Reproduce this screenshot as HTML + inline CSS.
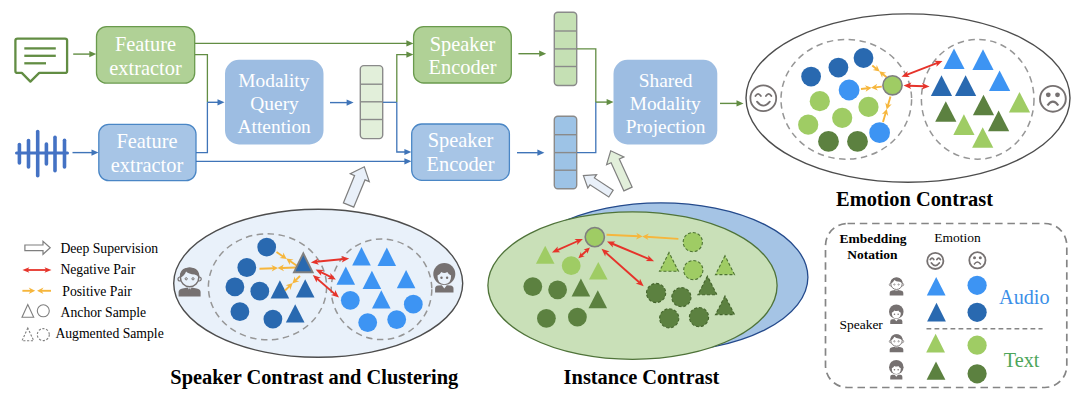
<!DOCTYPE html>
<html><head><meta charset="utf-8"><title>Framework</title>
<style>html,body{margin:0;padding:0;background:#fff}svg{display:block}</style>
</head><body>
<svg width="1080" height="403" viewBox="0 0 1080 403" font-family="'Liberation Serif', 'Times New Roman', serif">
<rect width="1080" height="403" fill="#fff"/>
<path d="M17.5,38.6 H65 Q67.1,38.6 67.1,40.6 V70.9 Q67.1,72.9 65,72.9 H39.2 L30.4,81.6 L21.8,72.9 H17.5 Q15.4,72.9 15.4,70.9 V40.6 Q15.4,38.6 17.5,38.6 Z" fill="none" stroke="#628d43" stroke-width="2.3" stroke-linejoin="round"/>
<line x1="24.3" y1="48.4" x2="55.8" y2="48.4" stroke="#628d43" stroke-width="2.3"/>
<line x1="24.3" y1="55.8" x2="55.8" y2="55.8" stroke="#628d43" stroke-width="2.3"/>
<line x1="24.3" y1="63.3" x2="46" y2="63.3" stroke="#628d43" stroke-width="2.3"/>
<line x1="16.5" y1="152.9" x2="67.5" y2="152.9" stroke="#4472c4" stroke-width="3" stroke-linecap="round"/>
<line x1="19.4" y1="144.5" x2="19.4" y2="163" stroke="#4472c4" stroke-width="3.6" stroke-linecap="round"/>
<line x1="28.5" y1="140.5" x2="28.5" y2="167" stroke="#4472c4" stroke-width="3.6" stroke-linecap="round"/>
<line x1="37.7" y1="131.5" x2="37.7" y2="175.8" stroke="#4472c4" stroke-width="3.6" stroke-linecap="round"/>
<line x1="46.4" y1="144" x2="46.4" y2="164" stroke="#4472c4" stroke-width="3.6" stroke-linecap="round"/>
<line x1="55" y1="137.2" x2="55" y2="170.8" stroke="#4472c4" stroke-width="3.6" stroke-linecap="round"/>
<line x1="64.5" y1="140.3" x2="64.5" y2="167" stroke="#4472c4" stroke-width="3.6" stroke-linecap="round"/>
<line x1="73.2" y1="54.1" x2="89.8" y2="54.1" stroke="#628d43" stroke-width="1.4"/><polygon points="96.3,54.1 89.3,57.2 89.3,51.0" fill="#628d43"/>
<line x1="72.5" y1="152.6" x2="92.0" y2="152.6" stroke="#3f74b8" stroke-width="1.4"/><polygon points="98.5,152.6 91.5,155.7 91.5,149.5" fill="#3f74b8"/>
<rect x="96.5" y="26.6" width="98.2" height="56.5" rx="10" fill="#b0d196" stroke="#6a9a4d" stroke-width="1.3"/>
<rect x="98.8" y="124.3" width="97.2" height="56.3" rx="10" fill="#a7c5e6" stroke="#4a86c5" stroke-width="1.3"/>
<text x="145.5" y="50.7" font-size="20.4" text-anchor="middle" fill="#fff" >Feature</text>
<text x="145.5" y="74.5" font-size="20.4" text-anchor="middle" fill="#fff" >extractor</text>
<text x="147" y="147.7" font-size="20.4" text-anchor="middle" fill="#fff" >Feature</text>
<text x="147" y="171.5" font-size="20.4" text-anchor="middle" fill="#fff" >extractor</text>
<line x1="195" y1="43.4" x2="408" y2="43.4" stroke="#628d43" stroke-width="1.3"/>
<polygon points="413.4,43.4 406.4,46.5 406.4,40.3" fill="#628d43"/>
<polyline points="195,54.6 207.4,54.6 207.4,102.3" fill="none" stroke="#628d43" stroke-width="1.3"/>
<polyline points="196,152.6 207.4,152.6 207.4,102.3" fill="none" stroke="#3f74b8" stroke-width="1.3"/>
<line x1="207.4" y1="102.3" x2="218.0" y2="102.3" stroke="#3f74b8" stroke-width="1.4"/><polygon points="224.5,102.3 217.5,105.4 217.5,99.2" fill="#3f74b8"/>
<line x1="196" y1="161.3" x2="406" y2="161.3" stroke="#3f74b8" stroke-width="1.3"/>
<polygon points="411.4,161.3 404.4,164.4 404.4,158.2" fill="#3f74b8"/>
<rect x="225" y="59.8" width="98.5" height="84.6" rx="14" fill="#9dbde2"/>
<text x="273.9" y="87" font-size="19.4" text-anchor="middle" fill="#fff" >Modality</text>
<text x="274.6" y="109.6" font-size="19.4" text-anchor="middle" fill="#fff" >Query</text>
<text x="274.2" y="132.8" font-size="19.4" text-anchor="middle" fill="#fff" >Attention</text>
<line x1="330.0" y1="102.6" x2="347.1" y2="102.6" stroke="#3f74b8" stroke-width="1.4"/><polygon points="353.6,102.6 346.6,105.7 346.6,99.5" fill="#3f74b8"/>
<rect x="360.3" y="65.6" width="22.4" height="73" rx="3.5" fill="#e2efda" stroke="#8a8a8a" stroke-width="1.4"/><line x1="360.3" y1="84.2" x2="382.7" y2="84.2" stroke="#8a8a8a" stroke-width="1.4"/><line x1="360.3" y1="101.8" x2="382.7" y2="101.8" stroke="#8a8a8a" stroke-width="1.4"/><line x1="360.3" y1="119.5" x2="382.7" y2="119.5" stroke="#8a8a8a" stroke-width="1.4"/>
<line x1="383" y1="102.3" x2="396.8" y2="102.3" stroke="#3f74b8" stroke-width="1.3"/>
<polyline points="396.8,102.3 396.8,54.6 408,54.6" fill="none" stroke="#628d43" stroke-width="1.3"/>
<polygon points="413.4,54.6 406.4,57.7 406.4,51.5" fill="#628d43"/>
<polyline points="396.8,102.3 396.8,152 406,152" fill="none" stroke="#3f74b8" stroke-width="1.3"/>
<polygon points="411.4,152.0 404.4,155.1 404.4,148.9" fill="#3f74b8"/>
<rect x="413.6" y="26.6" width="97.7" height="56.4" rx="10" fill="#b0d196" stroke="#6a9a4d" stroke-width="1.3"/>
<rect x="411.7" y="124" width="97.7" height="56.3" rx="10" fill="#a7c5e6" stroke="#4a86c5" stroke-width="1.3"/>
<text x="462.5" y="50.6" font-size="20.4" text-anchor="middle" fill="#fff" >Speaker</text>
<text x="462.5" y="74.2" font-size="20.4" text-anchor="middle" fill="#fff" >Encoder</text>
<text x="460.5" y="147.3" font-size="20.4" text-anchor="middle" fill="#fff" >Speaker</text>
<text x="460.5" y="170.9" font-size="20.4" text-anchor="middle" fill="#fff" >Encoder</text>
<line x1="518.4" y1="53.7" x2="539.7" y2="53.7" stroke="#628d43" stroke-width="1.4"/><polygon points="546.2,53.7 539.2,56.8 539.2,50.6" fill="#628d43"/>
<line x1="517.0" y1="152.7" x2="537.9" y2="152.7" stroke="#3f74b8" stroke-width="1.4"/><polygon points="544.4,152.7 537.4,155.8 537.4,149.6" fill="#3f74b8"/>
<rect x="554.3" y="12.3" width="22.4" height="73.2" rx="3.5" fill="#c5e0b4" stroke="#8a8a8a" stroke-width="1.4"/><line x1="554.3" y1="31" x2="576.6999999999999" y2="31" stroke="#8a8a8a" stroke-width="1.4"/><line x1="554.3" y1="48.9" x2="576.6999999999999" y2="48.9" stroke="#8a8a8a" stroke-width="1.4"/><line x1="554.3" y1="66.5" x2="576.6999999999999" y2="66.5" stroke="#8a8a8a" stroke-width="1.4"/>
<rect x="554.3" y="116.2" width="22.4" height="72.5" rx="3.5" fill="#9dc3e6" stroke="#8a8a8a" stroke-width="1.4"/><line x1="554.3" y1="134.7" x2="576.6999999999999" y2="134.7" stroke="#8a8a8a" stroke-width="1.4"/><line x1="554.3" y1="152.6" x2="576.6999999999999" y2="152.6" stroke="#8a8a8a" stroke-width="1.4"/><line x1="554.3" y1="170.2" x2="576.6999999999999" y2="170.2" stroke="#8a8a8a" stroke-width="1.4"/>
<polyline points="577,48.9 595.8,48.9 595.8,102.1" fill="none" stroke="#628d43" stroke-width="1.3"/>
<polyline points="577,152.6 595.8,152.6 595.8,102.1" fill="none" stroke="#3f74b8" stroke-width="1.3"/>
<line x1="595.8" y1="102.1" x2="607.1" y2="102.1" stroke="#628d43" stroke-width="1.4"/><polygon points="613.6,102.1 606.6,105.2 606.6,99.0" fill="#628d43"/>
<rect x="613.5" y="59.8" width="103.8" height="84.6" rx="14" fill="#9dbde2"/>
<text x="665.6" y="87" font-size="19.4" text-anchor="middle" fill="#fff" >Shared</text>
<text x="665.2" y="109.7" font-size="19.4" text-anchor="middle" fill="#fff" >Modality</text>
<text x="665.6" y="132.8" font-size="19.4" text-anchor="middle" fill="#fff" >Projection</text>
<line x1="720.0" y1="103.4" x2="737.0" y2="103.4" stroke="#628d43" stroke-width="1.4"/><polygon points="743.5,103.4 736.5,106.5 736.5,100.3" fill="#628d43"/>
<polygon points="353.8,207.1 365.0,179.9 369.3,181.6 364.3,166.8 350.3,173.8 354.6,175.6 343.4,202.9" fill="#e9f0f9" stroke="#7f7f7f" stroke-width="1.2" stroke-linejoin="miter"/>
<polygon points="613.2,190.2 594.4,177.9 596.6,174.6 583.4,175.6 587.8,188.0 590.0,184.8 608.8,197.0" fill="#e9f0f9" stroke="#7f7f7f" stroke-width="1.2" stroke-linejoin="miter"/>
<polygon points="632.1,187.1 619.3,159.0 623.9,156.9 610.7,150.8 606.6,164.7 611.1,162.7 623.9,190.9" fill="#e2efda" stroke="#7f7f7f" stroke-width="1.2" stroke-linejoin="miter"/>
<ellipse cx="908" cy="98.1" rx="162" ry="84.2" fill="#fff" stroke="#4d4d4d" stroke-width="1.4"/>
<ellipse cx="846.3" cy="99.3" rx="65.3" ry="59.9" fill="none" stroke="#969696" stroke-width="1.5" stroke-dasharray="6.5,4.5"/>
<ellipse cx="977.7" cy="99.3" rx="56.3" ry="59.9" fill="none" stroke="#969696" stroke-width="1.5" stroke-dasharray="6.5,4.5"/>
<g transform="translate(763.3,98.2)" fill="none" stroke="#767171" stroke-width="1.8" stroke-linecap="round"><circle r="12.9"/><path d="M-7.9,-2.2 Q-5.2,-6.5 -2.4,-2.2"/><path d="M2.6,-2.2 Q5.4,-6.5 8.1,-2.2"/><path d="M-6.3,3.4 Q0.0,11.4 6.5,3.4"/></g>
<g transform="translate(1052.9,98.8)"><circle r="12.9" fill="none" stroke="#767171" stroke-width="1.9"/><circle cx="-4.6" cy="-4.0" r="2.4" fill="#767171"/><circle cx="4.6" cy="-4.0" r="2.4" fill="#767171"/><path d="M-5.4,6.7 Q0,-1.2 5.4,6.7" fill="none" stroke="#767171" stroke-width="2.2"/></g>
<circle cx="811.1" cy="76.6" r="9.9" fill="#2969b0" />
<circle cx="838.4" cy="67.6" r="9.9" fill="#2969b0" />
<circle cx="863.5" cy="58.0" r="9.9" fill="#2969b0" />
<circle cx="849.1" cy="90.0" r="10.4" fill="#3d94f3" />
<circle cx="879.6" cy="132.7" r="10.4" fill="#3d94f3" />
<circle cx="819.8" cy="101.2" r="10.1" fill="#9fcc64" />
<circle cx="868.5" cy="106.9" r="10.1" fill="#9fcc64" />
<circle cx="842.2" cy="117.8" r="10.1" fill="#9fcc64" />
<circle cx="808.2" cy="124.7" r="10.1" fill="#9fcc64" />
<circle cx="828.5" cy="141.4" r="10.4" fill="#5c8140" />
<circle cx="857.5" cy="141.4" r="10.4" fill="#5c8140" />
<line x1="872.3" y1="65.5" x2="876.5" y2="69.0" stroke="#f6b63c" stroke-width="1.9"/><polygon points="879.7,71.5 872.6,70.0 876.2,68.7 876.7,64.9" fill="#f6b63c"/><line x1="886.6" y1="77.2" x2="882.4" y2="73.7" stroke="#f6b63c" stroke-width="1.9"/><polygon points="879.2,71.2 886.3,72.7 882.7,74.0 882.2,77.8" fill="#f6b63c"/>
<line x1="861.0" y1="89.0" x2="867.7" y2="88.2" stroke="#f6b63c" stroke-width="1.9"/><polygon points="871.7,87.8 865.6,91.8 867.2,88.3 864.9,85.2" fill="#f6b63c"/><line x1="881.8" y1="86.6" x2="875.1" y2="87.4" stroke="#f6b63c" stroke-width="1.9"/><polygon points="871.1,87.8 877.2,83.8 875.6,87.3 877.9,90.4" fill="#f6b63c"/>
<line x1="890.5" y1="96.5" x2="887.8" y2="105.7" stroke="#f6b63c" stroke-width="1.9"/><polygon points="886.7,109.5 885.3,102.4 887.9,105.2 891.7,104.2" fill="#f6b63c"/><line x1="883.0" y1="122.0" x2="885.7" y2="112.8" stroke="#f6b63c" stroke-width="1.9"/><polygon points="886.8,109.0 888.2,116.1 885.6,113.3 881.8,114.3" fill="#f6b63c"/>
<line x1="906.5" y1="74.9" x2="937.5" y2="62.9" stroke="#e6332a" stroke-width="1.9"/><polygon points="942.5,61.0 936.4,66.8 937.0,63.1 934.1,60.8" fill="#e6332a"/><polygon points="901.5,76.8 907.6,71.0 907.0,74.7 909.9,77.0" fill="#e6332a"/>
<line x1="908.8" y1="85.7" x2="924.3" y2="86.3" stroke="#e6332a" stroke-width="1.9"/><polygon points="929.6,86.5 921.7,89.4 923.8,86.3 921.9,83.0" fill="#e6332a"/><polygon points="903.5,85.5 911.4,82.6 909.3,85.7 911.2,89.0" fill="#e6332a"/>
<circle cx="892.5" cy="85.3" r="9.6" fill="#9fcc64" stroke="#7f7f7f" stroke-width="1.6"/>
<polygon points="954.0,48.5 943.4,69.1 964.6,69.1" fill="#3d94f3" />
<polygon points="983.0,49.3 972.4,69.9 993.6,69.9" fill="#3d94f3" />
<polygon points="999.6,70.4 989.0,91.0 1010.2,91.0" fill="#3d94f3" />
<polygon points="941.5,75.3 930.9,95.9 952.1,95.9" fill="#2969b0" />
<polygon points="965.6,75.3 955.0,95.9 976.2,95.9" fill="#2969b0" />
<polygon points="983.5,94.7 972.9,115.3 994.1,115.3" fill="#5c8140" />
<polygon points="945.8,101.2 935.2,121.8 956.4,121.8" fill="#5c8140" />
<polygon points="998.6,110.6 988.0,131.2 1009.2,131.2" fill="#5c8140" />
<polygon points="1019.5,92.0 1008.9,112.6 1030.1,112.6" fill="#9fcc64" />
<polygon points="963.9,114.3 953.3,134.9 974.5,134.9" fill="#9fcc64" />
<polygon points="982.7,127.2 972.1,147.8 993.3,147.8" fill="#9fcc64" />
<text x="914.5" y="205.8" font-size="20.4" text-anchor="middle" fill="#000" font-weight="bold" >Emotion Contrast</text>
<ellipse cx="318.2" cy="283.3" rx="144.5" ry="74" fill="#e9f1fa" stroke="#4d4d4d" stroke-width="1.4"/>
<ellipse cx="267.5" cy="286.8" rx="59.1" ry="53" fill="none" stroke="#969696" stroke-width="1.5" stroke-dasharray="6.5,4.5"/>
<ellipse cx="381.5" cy="289.3" rx="50.3" ry="50.3" fill="none" stroke="#969696" stroke-width="1.5" stroke-dasharray="6.5,4.5"/>
<g transform="translate(189.6,282.0) scale(1.0)"><path d="M-11,14.5 L-11,10 Q-11,7 -7,6.5 L-2,5.5 L0,9 L2,5.5 L7,6.5 Q11,7 11,10 L11,14.5 Z" fill="#767171"/><path d="M-1,6.5 L1,6.5 L1.3,12 L0,13.5 L-1.3,12 Z" fill="#767171"/><circle cx="-9.6" cy="-3" r="2" fill="#e9f1fa" stroke="#767171" stroke-width="1.2"/><circle cx="9.6" cy="-3" r="2" fill="#e9f1fa" stroke="#767171" stroke-width="1.2"/><ellipse cx="0" cy="-4.5" rx="9.2" ry="9.3" fill="#e9f1fa" stroke="#767171" stroke-width="1.5"/><path d="M-9.6,-4 Q-10.5,-14.5 0,-14.6 Q10.5,-14.5 9.6,-4 Q8.5,-7 5,-7.5 Q-1,-8 -3.5,-10.5 Q-5,-6.5 -9.6,-4 Z" fill="#767171"/><circle cx="-3.4" cy="-3.2" r="1.1" fill="#e9f1fa" stroke="#767171" stroke-width="1"/><circle cx="3.4" cy="-3.2" r="1.1" fill="#e9f1fa" stroke="#767171" stroke-width="1"/></g>
<g transform="translate(444.3,279.0) scale(1.0)"><path d="M-9.2,13.5 L-9.2,9.5 Q-9.2,6.8 -6,6.5 L-2.5,6.3 L0,9.6 L2.5,6.3 L6,6.5 Q9.2,6.8 9.2,9.5 L9.2,13.5 Z" fill="#767171"/><circle cx="0" cy="-5" r="11" fill="#767171"/><path d="M-6.8,-3.5 Q-4,-5 -3,-7 Q0,-5 3,-7 Q4,-5 6.8,-3.5 Q7,5 0,5.2 Q-7,5 -6.8,-3.5 Z" fill="#e9f1fa"/><circle cx="-2.8" cy="-1.2" r="1.2" fill="#767171"/><circle cx="2.8" cy="-1.2" r="1.2" fill="#767171"/></g>
<circle cx="266.7" cy="247.1" r="9.4" fill="#2969b0" />
<circle cx="246.8" cy="267.5" r="9.4" fill="#2969b0" />
<circle cx="234.9" cy="286.9" r="9.4" fill="#2969b0" />
<circle cx="259.8" cy="291.2" r="9.4" fill="#2969b0" />
<circle cx="239.9" cy="311.7" r="9.4" fill="#2969b0" />
<circle cx="272.9" cy="319.1" r="9.4" fill="#2969b0" />
<polygon points="279.9,280.2 270.6,298.5 289.2,298.5" fill="#2969b0" />
<polygon points="305.2,279.2 295.9,297.5 314.5,297.5" fill="#2969b0" />
<polygon points="295.2,304.3 285.9,322.6 304.5,322.6" fill="#2969b0" />
<line x1="276.5" y1="252.0" x2="283.4" y2="256.7" stroke="#f6b63c" stroke-width="1.9"/><polygon points="286.7,258.9 279.5,258.0 283.0,256.4 283.2,252.5" fill="#f6b63c"/><line x1="296.5" y1="265.5" x2="289.6" y2="260.8" stroke="#f6b63c" stroke-width="1.9"/><polygon points="286.3,258.6 293.5,259.5 290.0,261.1 289.8,265.0" fill="#f6b63c"/>
<line x1="259.5" y1="268.7" x2="274.0" y2="268.2" stroke="#f6b63c" stroke-width="1.9"/><polygon points="278.0,268.1 271.7,271.6 273.5,268.2 271.4,265.0" fill="#f6b63c"/><line x1="296.0" y1="267.5" x2="281.5" y2="268.0" stroke="#f6b63c" stroke-width="1.9"/><polygon points="277.5,268.1 283.8,264.6 282.0,268.0 284.1,271.2" fill="#f6b63c"/>
<line x1="300.0" y1="276.0" x2="295.2" y2="280.6" stroke="#f6b63c" stroke-width="1.9"/><polygon points="292.3,283.5 294.7,276.6 295.6,280.3 299.3,281.3" fill="#f6b63c"/><line x1="285.0" y1="290.5" x2="289.8" y2="285.9" stroke="#f6b63c" stroke-width="1.9"/><polygon points="292.7,283.0 290.3,289.9 289.4,286.2 285.7,285.2" fill="#f6b63c"/>
<line x1="316.1" y1="261.8" x2="343.9" y2="259.0" stroke="#e6332a" stroke-width="1.9"/><polygon points="349.2,258.4 341.8,262.4 343.4,259.0 341.1,256.0" fill="#e6332a"/><polygon points="310.8,262.4 318.2,258.4 316.6,261.8 318.9,264.8" fill="#e6332a"/>
<line x1="320.4" y1="271.8" x2="331.1" y2="277.1" stroke="#e6332a" stroke-width="1.9"/><polygon points="335.9,279.4 327.5,278.9 330.6,276.8 330.3,273.1" fill="#e6332a"/><polygon points="315.6,269.5 324.0,270.0 320.9,272.1 321.2,275.8" fill="#e6332a"/>
<line x1="316.9" y1="278.5" x2="334.9" y2="294.1" stroke="#e6332a" stroke-width="1.9"/><polygon points="339.0,297.6 331.0,294.9 334.6,293.8 335.2,290.1" fill="#e6332a"/><polygon points="312.8,275.0 320.8,277.7 317.2,278.8 316.6,282.5" fill="#e6332a"/>
<polygon points="303.3,253.4 294.0,272.2 312.6,272.2" fill="#2969b0" stroke="#7f7f7f" stroke-width="1.9"/>
<polygon points="361.5,247.1 352.2,265.4 370.8,265.4" fill="#3d94f3" />
<polygon points="386.8,247.6 377.5,265.9 396.1,265.9" fill="#3d94f3" />
<polygon points="345.8,266.5 336.5,284.8 355.1,284.8" fill="#3d94f3" />
<polygon points="371.9,270.7 362.6,289.0 381.2,289.0" fill="#3d94f3" />
<polygon points="406.1,270.0 396.8,288.3 415.4,288.3" fill="#3d94f3" />
<polygon points="381.3,290.3 372.0,308.6 390.6,308.6" fill="#3d94f3" />
<circle cx="350.3" cy="300.3" r="9.4" fill="#3d94f3" />
<circle cx="367.7" cy="322.6" r="9.4" fill="#3d94f3" />
<circle cx="396.7" cy="319.6" r="9.4" fill="#3d94f3" />
<circle cx="413.3" cy="304.2" r="9.4" fill="#3d94f3" />
<text x="314.3" y="383.8" font-size="20.4" text-anchor="middle" fill="#000" font-weight="bold" >Speaker Contrast and Clustering</text>
<ellipse cx="660.9" cy="277.2" rx="147" ry="74.4" fill="#a5c4e5" stroke="#244a8c" stroke-width="1.3"/>
<ellipse cx="632.5" cy="285.6" rx="144.6" ry="73.8" fill="#c9e0b8" stroke="#4f7339" stroke-width="1.3"/>
<polygon points="545.2,245.8 535.9,263.8 554.5,263.8" fill="#9fcc64" />
<polygon points="598.3,262.0 589.0,279.6 607.6,279.6" fill="#9fcc64" />
<circle cx="571.2" cy="265.7" r="9.4" fill="#9fcc64" />
<circle cx="532.8" cy="286.6" r="9.4" fill="#5c8140" />
<circle cx="557.6" cy="289.8" r="9.4" fill="#5c8140" />
<circle cx="546.4" cy="318.3" r="9.4" fill="#5c8140" />
<circle cx="577.4" cy="317.1" r="9.4" fill="#5c8140" />
<polygon points="580.9,278.6 571.6,296.6 590.2,296.6" fill="#5c8140" />
<polygon points="597.8,290.3 588.5,308.3 607.1,308.3" fill="#5c8140" />
<circle cx="692.8" cy="242.1" r="9.6" fill="#9fcc64" stroke="#4d7332" stroke-width="1.1" stroke-dasharray="3,2"/>
<circle cx="693.3" cy="270.1" r="9.6" fill="#9fcc64" stroke="#4d7332" stroke-width="1.1" stroke-dasharray="3,2"/>
<polygon points="669.0,252.5 659.5,271.3 678.5,271.3" fill="#9fcc64" stroke="#4d7332" stroke-width="1.1" stroke-dasharray="3,2"/>
<polygon points="725.0,255.8 715.5,274.6 734.5,274.6" fill="#9fcc64" stroke="#4d7332" stroke-width="1.1" stroke-dasharray="3,2"/>
<circle cx="656.1" cy="293.0" r="9.6" fill="#5c8140" stroke="#44642c" stroke-width="1.1" stroke-dasharray="3,2"/>
<circle cx="681.4" cy="297.2" r="9.6" fill="#5c8140" stroke="#44642c" stroke-width="1.1" stroke-dasharray="3,2"/>
<circle cx="669.2" cy="318.3" r="9.6" fill="#5c8140" stroke="#44642c" stroke-width="1.1" stroke-dasharray="3,2"/>
<circle cx="699.0" cy="317.1" r="9.6" fill="#5c8140" stroke="#44642c" stroke-width="1.1" stroke-dasharray="3,2"/>
<polygon points="707.4,276.1 697.9,294.7 716.9,294.7" fill="#5c8140" stroke="#44642c" stroke-width="1.1" stroke-dasharray="3,2"/>
<polygon points="725.0,296.0 715.5,314.6 734.5,314.6" fill="#5c8140" stroke="#44642c" stroke-width="1.1" stroke-dasharray="3,2"/>
<line x1="606.5" y1="234.7" x2="638.6" y2="236.2" stroke="#f6b63c" stroke-width="1.9"/><polygon points="642.6,236.4 636.0,239.4 638.1,236.2 636.3,232.8" fill="#f6b63c"/>
<line x1="678.4" y1="238.9" x2="646.2" y2="236.7" stroke="#f6b63c" stroke-width="1.9"/><polygon points="642.2,236.4 648.9,233.6 646.7,236.7 648.5,240.1" fill="#f6b63c"/>
<line x1="578.0" y1="241.0" x2="556.8" y2="250.4" stroke="#e6332a" stroke-width="1.9"/><polygon points="551.9,252.5 557.8,246.4 557.3,250.1 560.3,252.3" fill="#e6332a"/><polygon points="582.9,238.9 577.0,245.0 577.5,241.3 574.5,239.1" fill="#e6332a"/>
<line x1="587.0" y1="250.3" x2="581.3" y2="255.5" stroke="#e6332a" stroke-width="1.9"/><polygon points="578.4,258.2 580.9,252.1 581.7,255.2 584.7,256.2" fill="#e6332a"/><polygon points="589.9,247.6 587.4,253.7 586.6,250.6 583.6,249.6" fill="#e6332a"/>
<line x1="611.9" y1="243.5" x2="649.2" y2="259.1" stroke="#e6332a" stroke-width="1.9"/><polygon points="654.1,261.2 645.7,261.1 648.7,258.9 648.1,255.2" fill="#e6332a"/><polygon points="607.0,241.4 615.4,241.5 612.4,243.7 613.0,247.4" fill="#e6332a"/>
<line x1="605.5" y1="252.4" x2="639.7" y2="282.7" stroke="#e6332a" stroke-width="1.9"/><polygon points="643.7,286.3 635.7,283.5 639.3,282.4 640.0,278.7" fill="#e6332a"/><polygon points="601.5,248.8 609.5,251.6 605.9,252.7 605.2,256.4" fill="#e6332a"/>
<circle cx="594.8" cy="237.1" r="9.6" fill="#9fcc64" stroke="#7f7f7f" stroke-width="1.6"/>
<text x="641.5" y="383.8" font-size="20.4" text-anchor="middle" fill="#000" font-weight="bold" >Instance Contrast</text>
<polygon points="24.9,250.6 43.0,250.6 43.0,254.3 50.2,247.8 43.0,241.3 43.0,245.0 24.9,245.0" fill="#fff" stroke="#7f7f7f" stroke-width="1.2" stroke-linejoin="miter"/>
<line x1="27.1" y1="270.0" x2="46.8" y2="270.0" stroke="#e6332a" stroke-width="1.8"/><polygon points="51.5,270.0 44.5,272.8 46.2,270.0 44.5,267.2" fill="#e6332a"/><polygon points="22.4,270.0 29.4,267.2 27.6,270.0 29.4,272.8" fill="#e6332a"/>
<line x1="22.4" y1="290.8" x2="31.2" y2="290.8" stroke="#f6b63c" stroke-width="1.9"/><polygon points="35.2,290.8 28.7,294.1 30.7,290.8 28.7,287.5" fill="#f6b63c"/>
<line x1="51.0" y1="290.8" x2="41.0" y2="290.8" stroke="#f6b63c" stroke-width="1.9"/><polygon points="37.0,290.8 43.5,287.5 41.5,290.8 43.5,294.1" fill="#f6b63c"/>
<polygon points="27.8,304.5 22,317.2 33.7,317.2" fill="none" stroke="#7f7f7f" stroke-width="1.1"/>
<circle cx="43.3" cy="310.8" r="6" fill="none" stroke="#7f7f7f" stroke-width="1.1"/>
<polygon points="27.8,328 22,340.7 33.7,340.7" fill="none" stroke="#7f7f7f" stroke-width="1.1" stroke-dasharray="2.2,1.6"/>
<circle cx="43.3" cy="334.6" r="6" fill="none" stroke="#7f7f7f" stroke-width="1.1" stroke-dasharray="2.2,1.6"/>
<text x="60.4" y="253.2" font-size="13.7" text-anchor="start" fill="#000" >Deep Supervision</text>
<text x="60.4" y="274.2" font-size="13.7" text-anchor="start" fill="#000" >Negative Pair</text>
<text x="62.3" y="296" font-size="13.7" text-anchor="start" fill="#000" >Positive Pair</text>
<text x="60.6" y="317.2" font-size="13.7" text-anchor="start" fill="#000" >Anchor Sample</text>
<text x="55.4" y="338.2" font-size="13.7" text-anchor="start" fill="#000" >Augmented Sample</text>
<rect x="825.5" y="223.5" width="241.3" height="164" rx="22" fill="none" stroke="#858585" stroke-width="1.7" stroke-dasharray="7.5,4.8"/>
<text x="873" y="242.8" font-size="13.5" text-anchor="middle" fill="#000" font-weight="bold" >Embedding</text>
<text x="872.4" y="259" font-size="13.5" text-anchor="middle" fill="#000" font-weight="bold" >Notation</text>
<text x="957.5" y="242" font-size="13.5" text-anchor="middle" fill="#000" >Emotion</text>
<g transform="translate(935.3,260.9)" fill="none" stroke="#767171" stroke-width="1.8" stroke-linecap="round"><circle r="8.1"/><path d="M-5.0,-1.4 Q-3.2,-4.1 -1.5,-1.4"/><path d="M1.6,-1.4 Q3.4,-4.1 5.1,-1.4"/><path d="M-3.9,2.1 Q0.0,7.2 4.0,2.1"/></g>
<g transform="translate(977.4,260.3)"><circle r="8.1" fill="none" stroke="#767171" stroke-width="1.8"/><circle cx="-2.9" cy="-2.5" r="1.5" fill="#767171"/><circle cx="2.9" cy="-2.5" r="1.5" fill="#767171"/><path d="M-3.4,4.2 Q0,-0.7 3.4,4.2" fill="none" stroke="#767171" stroke-width="1.4"/></g>
<g transform="translate(896.5,286.5) scale(0.62)"><path d="M-11,14.5 L-11,10 Q-11,7 -7,6.5 L-2,5.5 L0,9 L2,5.5 L7,6.5 Q11,7 11,10 L11,14.5 Z" fill="#767171"/><path d="M-1,6.5 L1,6.5 L1.3,12 L0,13.5 L-1.3,12 Z" fill="#767171"/><circle cx="-9.6" cy="-3" r="2" fill="#fff" stroke="#767171" stroke-width="1.2"/><circle cx="9.6" cy="-3" r="2" fill="#fff" stroke="#767171" stroke-width="1.2"/><ellipse cx="0" cy="-4.5" rx="9.2" ry="9.3" fill="#fff" stroke="#767171" stroke-width="1.5"/><path d="M-9.6,-4 Q-10.5,-14.5 0,-14.6 Q10.5,-14.5 9.6,-4 Q8.5,-7 5,-7.5 Q-1,-8 -3.5,-10.5 Q-5,-6.5 -9.6,-4 Z" fill="#767171"/><circle cx="-3.4" cy="-3.2" r="1.1" fill="#fff" stroke="#767171" stroke-width="1"/><circle cx="3.4" cy="-3.2" r="1.1" fill="#fff" stroke="#767171" stroke-width="1"/></g>
<g transform="translate(896.3,315.0) scale(0.66)"><path d="M-9.2,13.5 L-9.2,9.5 Q-9.2,6.8 -6,6.5 L-2.5,6.3 L0,9.6 L2.5,6.3 L6,6.5 Q9.2,6.8 9.2,9.5 L9.2,13.5 Z" fill="#767171"/><circle cx="0" cy="-5" r="11" fill="#767171"/><path d="M-6.8,-3.5 Q-4,-5 -3,-7 Q0,-5 3,-7 Q4,-5 6.8,-3.5 Q7,5 0,5.2 Q-7,5 -6.8,-3.5 Z" fill="#fff"/><circle cx="-2.8" cy="-1.2" r="1.2" fill="#767171"/><circle cx="2.8" cy="-1.2" r="1.2" fill="#767171"/></g>
<g transform="translate(896.5,343.3) scale(0.62)"><path d="M-11,14.5 L-11,10 Q-11,7 -7,6.5 L-2,5.5 L0,9 L2,5.5 L7,6.5 Q11,7 11,10 L11,14.5 Z" fill="#767171"/><path d="M-1,6.5 L1,6.5 L1.3,12 L0,13.5 L-1.3,12 Z" fill="#767171"/><circle cx="-9.6" cy="-3" r="2" fill="#fff" stroke="#767171" stroke-width="1.2"/><circle cx="9.6" cy="-3" r="2" fill="#fff" stroke="#767171" stroke-width="1.2"/><ellipse cx="0" cy="-4.5" rx="9.2" ry="9.3" fill="#fff" stroke="#767171" stroke-width="1.5"/><path d="M-9.6,-4 Q-10.5,-14.5 0,-14.6 Q10.5,-14.5 9.6,-4 Q8.5,-7 5,-7.5 Q-1,-8 -3.5,-10.5 Q-5,-6.5 -9.6,-4 Z" fill="#767171"/><circle cx="-3.4" cy="-3.2" r="1.1" fill="#fff" stroke="#767171" stroke-width="1"/><circle cx="3.4" cy="-3.2" r="1.1" fill="#fff" stroke="#767171" stroke-width="1"/></g>
<g transform="translate(896.3,370.5) scale(0.66)"><path d="M-9.2,13.5 L-9.2,9.5 Q-9.2,6.8 -6,6.5 L-2.5,6.3 L0,9.6 L2.5,6.3 L6,6.5 Q9.2,6.8 9.2,9.5 L9.2,13.5 Z" fill="#767171"/><circle cx="0" cy="-5" r="11" fill="#767171"/><path d="M-6.8,-3.5 Q-4,-5 -3,-7 Q0,-5 3,-7 Q4,-5 6.8,-3.5 Q7,5 0,5.2 Q-7,5 -6.8,-3.5 Z" fill="#fff"/><circle cx="-2.8" cy="-1.2" r="1.2" fill="#767171"/><circle cx="2.8" cy="-1.2" r="1.2" fill="#767171"/></g>
<polygon points="936.2,276.9 926.8,295.5 945.6,295.5" fill="#3d94f3" />
<circle cx="977.1" cy="285.3" r="9.6" fill="#3d94f3" />
<polygon points="936.5,302.8 927.1,321.4 945.9,321.4" fill="#2969b0" />
<circle cx="977.1" cy="312.3" r="9.6" fill="#2969b0" />
<polygon points="935.6,333.8 926.2,352.4 945.0,352.4" fill="#9fcc64" />
<circle cx="977.1" cy="345.2" r="9.6" fill="#9fcc64" />
<polygon points="936.0,361.6 926.6,379.8 945.4,379.8" fill="#5c8140" />
<circle cx="977.1" cy="373.8" r="9.6" fill="#5c8140" />
<line x1="926.5" y1="328.8" x2="1042.6" y2="328.8" stroke="#858585" stroke-width="1.6" stroke-dasharray="4.8,3.2"/>
<text x="839.4" y="328.8" font-size="13.5" text-anchor="start" fill="#000" >Speaker</text>
<text x="1024.3" y="303.6" font-size="20.2" text-anchor="middle" fill="#3b8fe8" >Audio</text>
<text x="1021.6" y="366.5" font-size="20.2" text-anchor="middle" fill="#4ea65a" >Text</text>
</svg>
</body></html>
